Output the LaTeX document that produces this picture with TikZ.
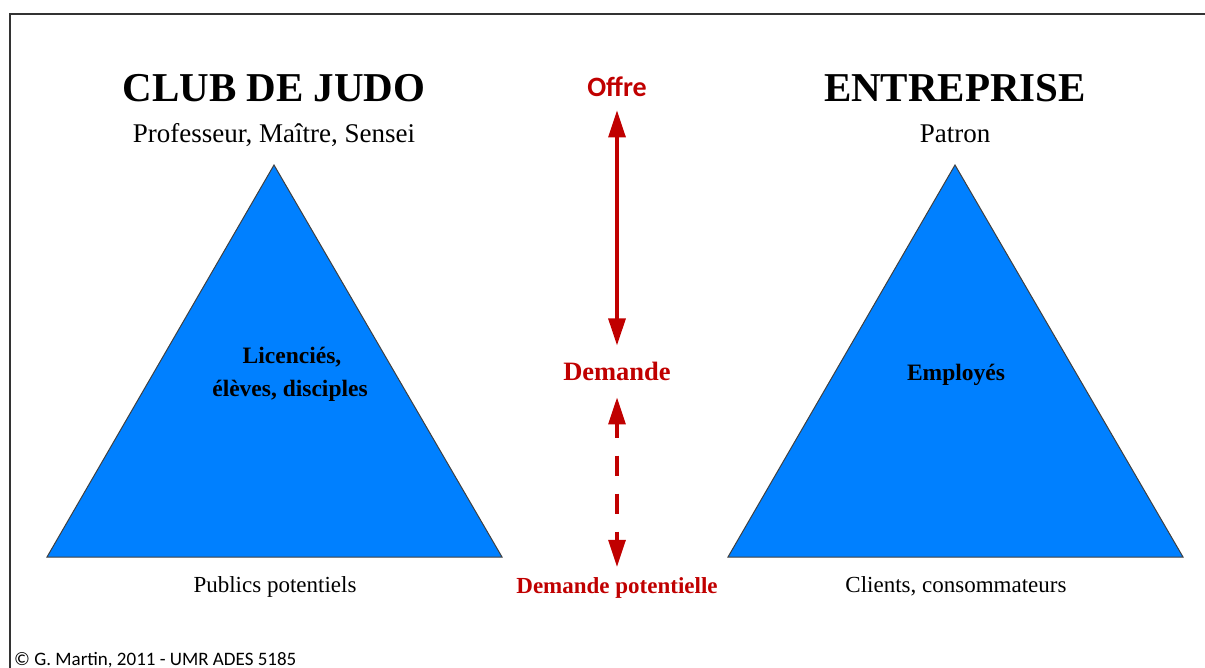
\documentclass[tikz,border=0pt]{standalone}
\usepackage{fontspec}
\setmainfont{Liberation Serif}
\newfontfamily\calibri{Carlito}
\usepackage{tikz}
\usetikzlibrary{arrows.meta}
\definecolor{pyrblue}{RGB}{0,128,255}
\definecolor{offrered}{RGB}{192,0,0}

\begin{document}
\begin{tikzpicture}[
          x=1pt, y=-1pt,
          pyramid/.style={
              draw=black!75,
              fill=pyrblue,
              line width=1pt,
              line join=miter
            },
          title/.style={
              anchor=base,
              inner sep=0pt,
              font=\fontsize{41}{44}\selectfont\bfseries
            },
          sub/.style={
              anchor=base,
              inner sep=0pt,
              font=\fontsize{27}{30}\selectfont
            },
          inside/.style={
              anchor=base,
              inner sep=0pt,
              font=\fontsize{23.5}{26}\selectfont\bfseries
            },
          bottom/.style={
              anchor=base,
              inner sep=0pt,
              font=\fontsize{23}{26}\selectfont
            },
          level/.style={
              anchor=base,
              inner sep=0pt,
              text=offrered,
              font=\fontsize{26.5}{29}\selectfont\bfseries
            },
          arr/.style={{Triangle[length=27pt,width=17pt]}-{Triangle[length=27pt,width=17pt]},
              offrered, line width=3.2pt},
          frame/.style={draw=black!80, line width=1.5pt}
        ]
        \useasboundingbox (0,0) rectangle (1205,668);
        \draw[frame] (10,668) -- (10,14) -- (1205,14);

        % club de judo
        \coordinate (judotop) at (274,165);
        \coordinate (judoleft) at (47,557);
        \coordinate (judoright) at (502,557);
        \draw[pyramid] (judotop) -- (judoright) -- (judoleft) -- cycle;
        \node[title] (judo) at (274,102) {CLUB DE JUDO};
        \node[sub] (sensei) at (274,143) {Professeur, Maître, Sensei};
        \node[inside] (licencies) at (292,363) {Licenciés,};
        \node[inside] (eleves) at (290,396) {élèves, disciples};
        \node[bottom] (publics) at (275,592) {Publics potentiels};

        % entreprise
        \coordinate (entop) at (955,165);
        \coordinate (enleft) at (728,557);
        \coordinate (enright) at (1183,557);
        \draw[pyramid] (entop) -- (enright) -- (enleft) -- cycle;
        \node[title] (entreprise) at (955,102) {ENTREPRISE};
        \node[sub] (patron) at (955,143) {Patron};
        \node[inside] (employes) at (956,380) {Employés};
        \node[bottom] (clients) at (956,592) {Clients, consommateurs};

        % offre / demande
        \node[anchor=base, inner sep=0pt, text=offrered,
              font=\calibri\fontsize{28}{31}\selectfont\bfseries] (offre) at (617,97) {Offre};
        \node[level] (demande) at (617,380) {Demande};
        \node[level, font=\fontsize{23}{26}\selectfont\bfseries] (potentielle) at (617,593) {Demande potentielle};

        \draw[arr, shorten <=13pt, shorten >=16pt] (offre.south) -- (demande.north);
        \draw[arr, dash pattern=on 20pt off 18pt, dash phase=6pt,
              shorten <=17pt, shorten >=10pt] (demande.south) -- (potentielle.north);

        \node[anchor=base west, inner sep=0pt,
              font=\calibri\fontsize{19}{22}\selectfont] (copyright) at (14,665) {© G. Martin, 2011 - UMR ADES 5185};
      \end{tikzpicture}
\end{document}
